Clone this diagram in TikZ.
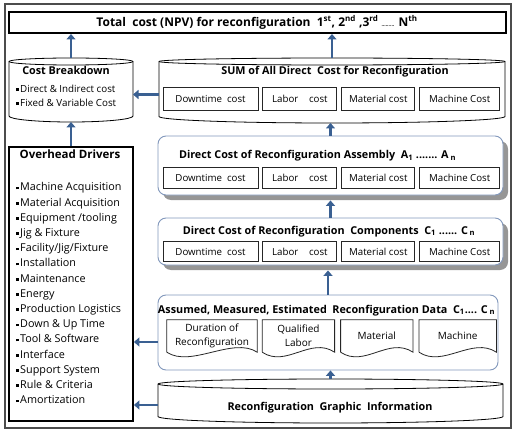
\documentclass[tikz,border=0pt]{standalone}
\usepackage{fontspec}
\setmainfont{Open Sans}
\usetikzlibrary{shapes.geometric, arrows.meta, positioning, shadows}

\definecolor{arrowblue}{RGB}{58,96,146}
\definecolor{panelblue}{RGB}{130,152,188}
\definecolor{shadowgray}{RGB}{150,150,150}

\newcommand{\sqbul}{\raisebox{1.6pt}{\rule{2.6pt}{2.6pt}}\hspace{1.4pt}}
% drum outline round a named node: name, x radius, top y radius, bottom y radius
\newcommand{\drawdrum}[4]{%
  \draw[line width=0.8pt, fill=white] ([yshift=-#3]#1.north west) -- ([yshift=#4]#1.south west)
    arc[start angle=180, end angle=360, x radius=#2, y radius=#4]
    -- ([yshift=-#3]#1.north east)
    arc[start angle=0, end angle=180, x radius=#2, y radius=#3] -- cycle;
  \draw[line width=0.8pt] ([yshift=-#3]#1.north west)
    arc[start angle=180, end angle=360, x radius=#2, y radius=#3];
}

\begin{document}
\begin{tikzpicture}[
    x=1pt, y=-1pt,
    hfont/.style={font=\bfseries\fontsize{10.8}{13}\selectfont},
    drum/.style={rectangle, inner sep=0pt, outer sep=0pt},
    costbox/.style={rectangle, draw=black!85, line width=0.9pt, fill=white, minimum height=21pt, inner sep=1pt, font=\fontsize{9.7}{12}\selectfont},
    panel/.style={rectangle, rounded corners=8pt, draw=panelblue, line width=0.9pt, fill=white},
    shadowpanel/.style={panel, drop shadow={shadow xshift=5pt, shadow yshift=-5pt, fill=shadowgray, opacity=1}},
    docbox/.style={rectangle, inner sep=1pt, minimum height=32pt, align=center, font=\fontsize{10}{14}\selectfont},
    heavybox/.style={rectangle, draw, line width=1.8pt, fill=white},
    arrow/.style={-{Triangle[length=5.5pt, width=9pt]}, line width=2.8pt, draw=arrowblue}
]
\useasboundingbox (0,0) rectangle (514,433);

% 1. Frame and total
\node[rectangle, draw=black!70, line width=1.3pt, minimum width=506pt, minimum height=424pt] (frame) at (258,216) {};
\node[heavybox, line width=2pt, minimum width=497pt, minimum height=21pt, font=\bfseries\fontsize{12}{14}\selectfont] (total) at (257,22.5) {Total\ \ cost (NPV) for reconfiguration\ \ 1\textsuperscript{st}, 2\textsuperscript{nd} ,3\textsuperscript{rd} {\tiny .........} N\textsuperscript{th}};

% 2. Cost breakdown
\node[drum, minimum width=124pt, minimum height=64pt] (cb) at (71,90) {};
\drawdrum{cb}{62pt}{3.5pt}{6pt}
\node[hfont, anchor=base] (cbtitle) at (66,75) {Cost Breakdown};
\node[anchor=north west, align=left, inner sep=0pt, font=\fontsize{9.8}{14}\selectfont] (cbitems) at (16,85) {\sqbul Direct \& Indirect cost\\ \sqbul Fixed \& Variable Cost};

% 3. Overhead drivers
\node[heavybox, minimum width=124pt, minimum height=274pt] (od) at (71,284) {};
\node[font=\bfseries\fontsize{11.5}{13}\selectfont, anchor=base] (odtitle) at (70,159) {Overhead Drivers};
\node[anchor=north west, align=left, inner sep=0pt, font=\fontsize{10.8}{15.2}\selectfont] (oditems) at (16,182.5) {\sqbul Machine Acquisition\\ \sqbul Material Acquisition\\ \sqbul Equipment /tooling\\ \sqbul Jig \& Fixture\\ \sqbul Facility/Jig/Fixture\\ \sqbul Installation\\ \sqbul Maintenance\\ \sqbul Energy\\ \sqbul Production Logistics\\ \sqbul Down \& Up Time\\ \sqbul Tool \& Software\\ \sqbul Interface\\ \sqbul Support System\\ \sqbul Rule \& Criteria\\ \sqbul Amortization};

% 4. Sum of direct cost
\node[drum, minimum width=346pt, minimum height=65pt] (sum) at (332,90.5) {};
\drawdrum{sum}{173pt}{3.5pt}{6.5pt}
\node[hfont, anchor=base] (sumtitle) at (335,75) {SUM of All Direct\ \ Cost for Reconfiguration};
\node[costbox, minimum width=95pt, minimum height=23pt] (sdown) at (210.5,99) {Downtime\ \ cost};
\node[costbox, minimum width=74pt, minimum height=23pt, right=4pt of sdown] (slab) {Labor\hspace{1.1em}cost};
\node[costbox, minimum width=73pt, minimum height=23pt, right=4pt of slab] (smat) {Material cost};
\node[costbox, minimum width=80pt, minimum height=23pt, right=4pt of smat] (smach) {Machine Cost};

% 5. Assembly
\node[shadowpanel, minimum width=345pt, minimum height=59pt] (asm) at (330.5,165.5) {};
\node[hfont, anchor=base] (asmtitle) at (317.5,159) {Direct Cost of Reconfiguration Assembly\ \ A\textsubscript{1} ....... A\,\textsubscript{n}};
\node[costbox, minimum width=95pt] (adown) at (210.5,177.5) {Downtime\ \ cost};
\node[costbox, minimum width=74pt, right=4pt of adown] (alab) {Labor\hspace{1.1em}cost};
\node[costbox, minimum width=73pt, right=4pt of alab] (amat) {Material cost};
\node[costbox, minimum width=80pt, right=4pt of amat] (amach) {Machine Cost};

% 6. Components
\node[shadowpanel, minimum width=345pt, minimum height=47pt] (comp) at (330.5,241.5) {};
\node[hfont, anchor=base] (comptitle) at (329,234) {Direct Cost of Reconfiguration\ \ Components\ \ C\textsubscript{1} ...... C\,\textsubscript{n}};
\node[costbox, minimum width=95pt, minimum height=20pt] (cdown) at (210.5,251.5) {Downtime\ \ cost};
\node[costbox, minimum width=74pt, minimum height=20pt, right=4pt of cdown] (clab) {Labor\hspace{1.1em}cost};
\node[costbox, minimum width=73pt, minimum height=20pt, right=4pt of clab] (cmat) {Material cost};
\node[costbox, minimum width=80pt, minimum height=20pt, right=4pt of cmat] (cmach) {Machine Cost};

% 7. Reconfiguration data
\node[panel, minimum width=340pt, minimum height=75pt] (data) at (328,332.5) {};
\node[hfont, anchor=base] (datatitle) at (326.5,313) {Assumed, Measured,\ Estimated\ \ Reconfiguration Data\ \ C\textsubscript{1}.... C\,\textsubscript{n}};
\node[docbox, minimum width=90pt] (dur) at (212,336) {Duration of\\Reconfiguration};
\node[docbox, minimum width=72pt, right=5pt of dur] (qual) {Qualified\\Labor};
\node[docbox, minimum width=72pt, right=6pt of qual] (mat) {Material};
\node[docbox, minimum width=77pt, right=6pt of mat] (mach) {Machine};
\foreach \d in {dur, qual, mat, mach}
  \draw[line width=0.8pt, draw=black!85] (\d.south west) -- (\d.north west) -- (\d.north east) -- (\d.south east)
    .. controls +(-24pt,16pt) and +(24pt,-16pt) .. (\d.south west);

% 8. Graphic information
\node[drum, minimum width=345pt, minimum height=44pt] (gi) at (330.5,401) {};
\drawdrum{gi}{172.5pt}{5pt}{6.5pt}
\node[hfont, anchor=base] (gititle) at (330,410.5) {Reconfiguration\ \ Graphic\ \ Information};

% 9. Connections
\coordinate (sumout) at ([yshift=-4pt]sum.west);
\coordinate (dataout) at ([yshift=-9.5pt]data.west);
\coordinate (giout) at ([yshift=-4pt]gi.west);

\draw[arrow] (cb.north) -- (cb.north |- total.south);
\draw[arrow] (sum.north) -- (sum.north |- total.south);
\draw[arrow] (od.north) -- (od.north |- cb.south);
\draw[arrow] (sumout) -- (sumout -| cb.east);
\draw[arrow] (asm.north) -- (asm.north |- sum.south);
\draw[arrow, shorten >=5pt] (comp.north) -- (comp.north |- asm.south);
\draw[arrow, shorten >=5pt] (data.north) -- (data.north |- comp.south);
\draw[arrow] (gi.north) -- (gi.north |- data.south);
\draw[arrow] (dataout) -- (dataout -| od.east);
\draw[arrow] (giout) -- (giout -| od.east);

\end{tikzpicture}
\end{document}
